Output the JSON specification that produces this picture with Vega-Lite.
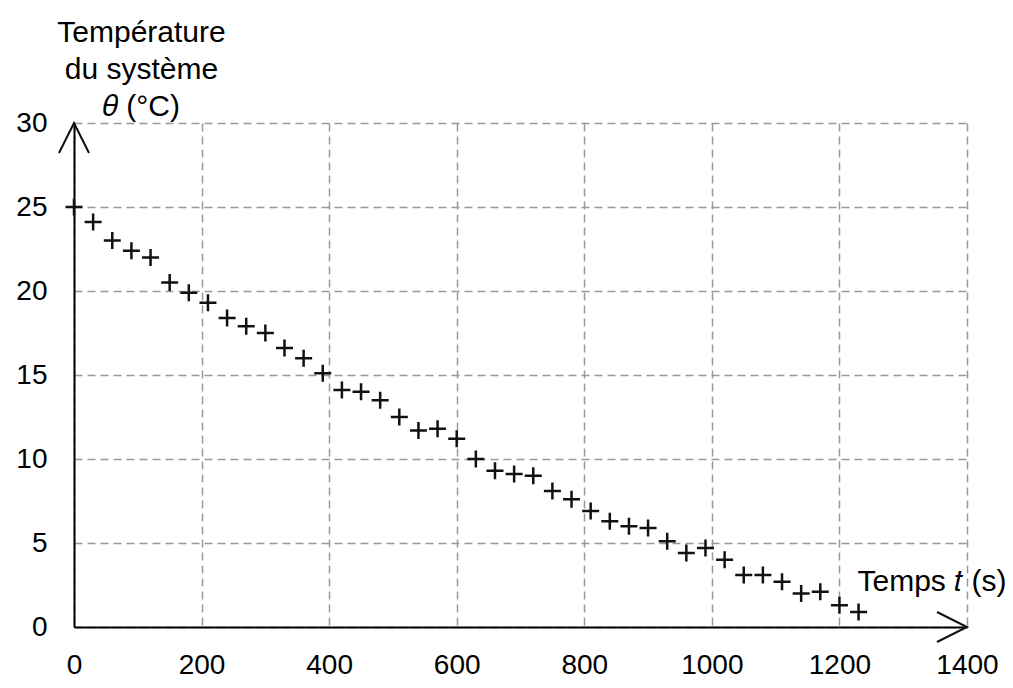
{
  "$schema": "https://vega.github.io/schema/vega-lite/v6.json",
  "width": 893,
  "height": 504,
  "autosize": {"type": "none"},
  "padding": {"left": 74, "top": 123, "right": 46, "bottom": 61},
  "background": "white",
  "config": {"view": {"stroke": null}, "font": "Liberation Sans, DejaVu Sans"},
  "datasets": {
    "mesures": [
      {"t": 0, "theta": 25.0}, {"t": 30, "theta": 24.1}, {"t": 60, "theta": 23.0}, {"t": 90, "theta": 22.4},
      {"t": 120, "theta": 22.0}, {"t": 150, "theta": 20.5}, {"t": 180, "theta": 19.9}, {"t": 210, "theta": 19.3},
      {"t": 240, "theta": 18.4}, {"t": 270, "theta": 17.9}, {"t": 300, "theta": 17.5}, {"t": 330, "theta": 16.6},
      {"t": 360, "theta": 16.0}, {"t": 390, "theta": 15.1}, {"t": 420, "theta": 14.1}, {"t": 450, "theta": 14.0},
      {"t": 480, "theta": 13.5}, {"t": 510, "theta": 12.5}, {"t": 540, "theta": 11.7}, {"t": 570, "theta": 11.8},
      {"t": 600, "theta": 11.2}, {"t": 630, "theta": 10.0}, {"t": 660, "theta": 9.3}, {"t": 690, "theta": 9.1},
      {"t": 720, "theta": 9.0}, {"t": 750, "theta": 8.1}, {"t": 780, "theta": 7.6}, {"t": 810, "theta": 6.9},
      {"t": 840, "theta": 6.3}, {"t": 870, "theta": 6.0}, {"t": 900, "theta": 5.9}, {"t": 930, "theta": 5.1},
      {"t": 960, "theta": 4.4}, {"t": 990, "theta": 4.7}, {"t": 1020, "theta": 4.0}, {"t": 1050, "theta": 3.1},
      {"t": 1080, "theta": 3.1}, {"t": 1110, "theta": 2.7}, {"t": 1140, "theta": 2.0}, {"t": 1170, "theta": 2.1},
      {"t": 1200, "theta": 1.3}, {"t": 1230, "theta": 0.9}
    ],
    "fleches": [
      {"t": 0, "theta": 30, "sens": "haut"},
      {"t": 1400, "theta": 0, "sens": "droite"}
    ]
  },
  "encoding": {
    "x": {
      "field": "t",
      "type": "quantitative",
      "scale": {"domain": [0, 1400], "nice": false, "zero": false},
      "axis": {
        "values": [0, 200, 400, 600, 800, 1000, 1200, 1400],
        "format": "d",
        "title": "Temps 𝑡 (s)",
        "titleX": 783,
        "titleY": -37,
        "titleAlign": "left",
        "titleBaseline": "alphabetic",
        "titleAngle": 0,
        "titleFontSize": 30,
        "titleFontWeight": "normal",
        "titleColor": "#000000",
        "labelFontSize": 28,
        "labelColor": "#000000",
        "labelPadding": 24,
        "labelOverlap": false,
        "labelFlush": false,
        "labelBound": false,
        "ticks": false,
        "tickSize": 0,
        "domainColor": "#000000",
        "domainWidth": 2,
        "grid": true,
        "gridColor": "#999999",
        "gridDash": [8, 5],
        "gridWidth": 1.5,
        "zindex": 0
      }
    },
    "y": {
      "field": "theta",
      "type": "quantitative",
      "scale": {"domain": [0, 30], "nice": false},
      "axis": {
        "values": [0, 5, 10, 15, 20, 25, 30],
        "title": ["Température", "du système", "𝜃 (°C)"],
        "titleX": 67,
        "titleY": -106,
        "titleAlign": "center",
        "titleBaseline": "top",
        "titleAngle": 0,
        "titleLineHeight": 37,
        "titleFontSize": 30,
        "titleFontWeight": "normal",
        "titleColor": "#000000",
        "labelFontSize": 28,
        "labelColor": "#000000",
        "labelPadding": 27,
        "labelOverlap": false,
        "labelFlush": false,
        "labelBound": false,
        "ticks": false,
        "tickSize": 0,
        "domainColor": "#000000",
        "domainWidth": 2,
        "grid": true,
        "gridColor": "#999999",
        "gridDash": [8, 5],
        "gridWidth": 1.5,
        "zindex": 0
      }
    }
  },
  "layer": [
    {
      "data": {"name": "mesures"},
      "mark": {"type": "point", "shape": "M-1,0L1,0M0,-1L0,1", "filled": false, "color": "#111111", "strokeWidth": 2.5, "size": 289, "opacity": 1}
    },
    {
      "data": {"name": "fleches"},
      "mark": {"type": "point", "filled": false, "color": "#111111", "strokeWidth": 2, "size": 3600, "opacity": 1},
      "encoding": {
        "shape": {
          "field": "sens",
          "type": "nominal",
          "scale": {"domain": ["haut", "droite"], "range": ["M-0.5,1L0,0L0.5,1", "M-1,-0.5L0,0L-1,0.5"]},
          "legend": null
        }
      }
    }
  ]
}
